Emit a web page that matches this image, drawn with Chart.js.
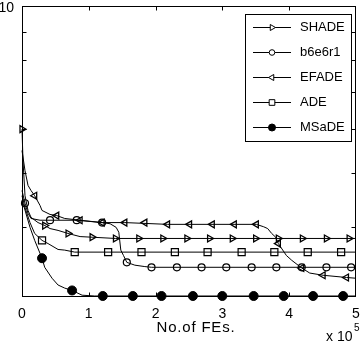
<!DOCTYPE html>
<html><head><meta charset="utf-8">
<script src="https://cdn.jsdelivr.net/npm/chart.js@4.4.0/dist/chart.umd.min.js"></script>
<style>html,body{margin:0;padding:0;background:#fff;overflow:hidden}canvas{display:block}</style>
</head><body>
<canvas id="c" width="362" height="349"></canvas>
<script>
// ---- tick values ----
const xTicks = [0, 1, 2, 3, 4, 5];
const yTicks = [3, 4, 5, 6, 7, 8, 9, 10];
const xTickLabels = ['0', '1', '2', '3', '4', '5'];
const xTitle = 'No.of FEs.';

// ---- series names ----
const names = ['SHADE', 'b6e6r1', 'EFADE', 'ADE', 'MSaDE'];

// ---- SHADE ----
const shadeX = [0, 0.015, 0.045, 0.09, 0.135, 0.24, 0.344, 0.42, 0.54, 0.69, 0.87, 1.05, 1.40, 5.0];
const shadeY = [6.0, 5.26, 4.55, 4.28, 4.16, 4.07, 4.02, 3.97, 3.94, 3.89, 3.84, 3.83, 3.81, 3.81];
const shadeMX = [0, 0.34, 0.69, 1.05, 1.40, 1.75, 2.11, 2.47, 2.81, 3.15, 3.50, 3.84, 4.20, 4.56, 4.90];
const shadeMY = [6.0, 4.02, 3.89, 3.83, 3.81, 3.81, 3.81, 3.81, 3.81, 3.81, 3.81, 3.81, 3.81, 3.81, 3.81];

// ---- b6e6r1 ----
const b6X = [0, 0.045, 0.09, 0.135, 0.27, 0.42, 0.82, 1.20, 1.32, 1.41, 1.45, 1.48, 1.52, 1.57, 1.69, 1.84, 1.94, 5.0];
const b6Y = [4.65, 4.41, 4.23, 4.14, 4.11, 4.11, 4.11, 4.07, 4.05, 3.99, 3.91, 3.63, 3.55, 3.45, 3.41, 3.39, 3.38, 3.38];
const b6MX = [0.045, 0.42, 0.82, 1.20, 1.57, 1.94, 2.32, 2.69, 3.06, 3.44, 3.81, 4.19, 4.56, 4.93];
const b6MY = [4.41, 4.11, 4.11, 4.07, 3.45, 3.38, 3.38, 3.38, 3.38, 3.38, 3.38, 3.38, 3.38, 3.38];

// ---- EFADE ----
const efX = [0, 0.045, 0.09, 0.135, 0.19, 0.27, 0.30, 0.42, 0.52, 0.64, 0.87, 1.20, 1.54, 2.18, 3.51, 3.62, 3.68, 3.74, 3.80, 3.84, 3.96, 4.04, 4.19, 4.31, 4.51, 4.86, 5.0];
const efY = [5.49, 5.05, 4.75, 4.65, 4.55, 4.37, 4.28, 4.21, 4.19, 4.14, 4.11, 4.07, 4.07, 4.04, 4.04, 4.00, 3.97, 3.89, 3.83, 3.73, 3.55, 3.48, 3.37, 3.30, 3.27, 3.24, 3.23];
const efMX = [0.19, 0.52, 0.87, 1.20, 1.54, 1.84, 2.18, 2.51, 2.85, 3.18, 3.51, 3.84, 4.19, 4.51, 4.86];
const efMY = [4.55, 4.19, 4.11, 4.07, 4.07, 4.07, 4.04, 4.04, 4.04, 4.04, 4.04, 3.73, 3.37, 3.27, 3.24];

// ---- ADE ----
const adeX = [0, 0.045, 0.12, 0.19, 0.30, 0.39, 0.54, 0.64, 0.79, 5.0];
const adeY = [4.55, 4.33, 4.07, 3.89, 3.78, 3.73, 3.64, 3.63, 3.60, 3.60];
const adeMX = [0.30, 0.79, 1.29, 1.79, 2.29, 2.78, 3.29, 3.78, 4.28, 4.78];
const adeMY = [3.78, 3.60, 3.60, 3.60, 3.60, 3.60, 3.60, 3.60, 3.60, 3.60];

// ---- MSaDE ----
const msX = [0, 0.015, 0.12, 0.19, 0.30, 0.34, 0.45, 0.54, 0.64, 0.75, 0.90, 1.09, 5.0];
const msY = [4.46, 4.41, 3.99, 3.78, 3.51, 3.38, 3.23, 3.14, 3.10, 3.07, 3.01, 3.0, 3.0];
const msMX = [0.30, 0.75, 1.21, 1.66, 2.09, 2.56, 3.00, 3.47, 3.92, 4.36, 4.81];
const msMY = [3.51, 3.07, 3.0, 3.0, 3.0, 3.0, 3.0, 3.0, 3.0, 3.0, 3.0];

const FONT = "'Liberation Sans', Arial, Helvetica, sans-serif";
const pts = (xs, ys) => xs.map((x, i) => ({x, y: ys[i]}));

const curves = [[shadeX, shadeY], [b6X, b6Y], [efX, efY], [adeX, adeY], [msX, msY]];
const marks = [[shadeMX, shadeMY], [b6MX, b6MY], [efMX, efMY], [adeMX, adeMY], [msMX, msMY]];
const mStyle = [
  {pointStyle: 'triangle', pointRotation: 90, pointRadius: 4, pointBackgroundColor: 'rgba(0,0,0,0)', pointBorderWidth: 1.3, lr: 3.5},
  {pointStyle: 'circle', pointRotation: 0, pointRadius: 3.5, pointBackgroundColor: 'rgba(0,0,0,0)', pointBorderWidth: 1.2, lr: 2.8},
  {pointStyle: 'triangle', pointRotation: -90, pointRadius: 4, pointBackgroundColor: 'rgba(0,0,0,0)', pointBorderWidth: 1.3, lr: 3.5},
  {pointStyle: 'rect', pointRotation: 0, pointRadius: 5, pointBackgroundColor: 'rgba(0,0,0,0)', pointBorderWidth: 1.2, lr: 4},
  {pointStyle: 'circle', pointRotation: 0, pointRadius: 4.5, pointBackgroundColor: '#000', pointBorderWidth: 1, lr: 3.5}
];

const datasets = [];
curves.forEach((c, i) => datasets.push({
  label: names[i] + ' curve', data: pts(c[0], c[1]), showLine: true, borderColor: '#000',
  borderWidth: 1, pointRadius: 0, tension: 0, clip: false, isCurve: true
}));
marks.forEach((m, i) => datasets.push(Object.assign({
  label: names[i], data: pts(m[0], m[1]), showLine: false, borderColor: '#000',
  pointBorderColor: '#000', clip: false
}, mStyle[i])));

const framePlugin = {
  id: 'frame',
  afterDatasetsDraw(chart) {
    const {ctx, chartArea: a, scales: {x, y}} = chart;
    ctx.save();
    ctx.strokeStyle = '#000'; ctx.lineWidth = 1;
    const L = Math.round(a.left) + 0.5, R = Math.round(a.right) - 0.5;
    const T = Math.round(a.top) + 0.5, B = Math.round(a.bottom) + 0.5;
    ctx.strokeRect(L, T, R - L, B - T);
    ctx.beginPath();
    xTicks.forEach(v => {
      if (v === xTicks[0] || v === xTicks[xTicks.length - 1]) return;
      const px = Math.round(x.getPixelForValue(v)) + 0.5;
      ctx.moveTo(px, B); ctx.lineTo(px, B - 4);
      ctx.moveTo(px, T); ctx.lineTo(px, T + 4);
    });
    yTicks.forEach(v => {
      if (v === yTicks[0] || v === yTicks[yTicks.length - 1]) return;
      const py = Math.round(y.getPixelForValue(v)) + 0.5;
      ctx.moveTo(L, py); ctx.lineTo(L + 4, py);
      ctx.moveTo(R, py); ctx.lineTo(R - 4, py);
    });
    ctx.stroke();
    ctx.restore();
  },
  afterDraw(chart) {
    const {ctx} = chart;
    ctx.save();
    ctx.fillStyle = '#000';
    // x-axis title
    ctx.font = '15px ' + FONT;
    ctx.textAlign = 'center'; ctx.textBaseline = 'middle';
    if ('letterSpacing' in ctx) ctx.letterSpacing = '0.8px';
    ctx.fillText(xTitle, 196, 328);
    if ('letterSpacing' in ctx) ctx.letterSpacing = '0px';
    // exponent note
    ctx.textAlign = 'left'; ctx.textBaseline = 'alphabetic';
    ctx.font = '14px ' + FONT;
    ctx.fillText('x 10', 326, 341);
    ctx.font = '10px ' + FONT;
    ctx.fillText('5', 354, 331);
    // legend
    const bx = 245.5, by = 14.5, bw = 106, bh = 127;
    ctx.fillStyle = '#fff';
    ctx.fillRect(bx, by, bw, bh);
    ctx.strokeStyle = '#000'; ctx.lineWidth = 1;
    ctx.strokeRect(bx, by, bw, bh);
    const markerSets = chart.data.datasets.filter(d => !d.isCurve);
    markerSets.forEach((d, i) => {
      const ry = Math.round(by + 12.5 + i * 25) + 0.5;
      ctx.beginPath();
      ctx.moveTo(253, ry); ctx.lineTo(291, ry);
      ctx.strokeStyle = '#000'; ctx.lineWidth = 1; ctx.stroke();
      ctx.fillStyle = d.pointBackgroundColor === '#000' ? '#000' : '#fff';
      ctx.strokeStyle = '#000';
      Chart.helpers.drawPoint(ctx, {pointStyle: d.pointStyle, rotation: d.pointRotation, radius: d.lr, borderWidth: 1}, 272, ry);
      ctx.fillStyle = '#000';
      ctx.font = '13px ' + FONT;
      ctx.textAlign = 'left'; ctx.textBaseline = 'middle';
      ctx.fillText(d.label, 300, ry);
    });
    ctx.restore();
  }
};

new Chart(document.getElementById('c'), {
  type: 'scatter',
  data: {datasets},
  options: {
    responsive: false, animation: false, devicePixelRatio: 1,
    layout: {padding: {top: 5, right: 6, left: 0, bottom: 0}},
    plugins: {legend: {display: false}, tooltip: {enabled: false}},
    scales: {
      x: {
        type: 'linear', min: 0, max: 5,
        afterBuildTicks: s => { s.ticks = xTicks.map(v => ({value: v})); },
        ticks: {callback: (v, i) => xTickLabels[i], color: '#000', padding: 10, autoSkip: false, maxRotation: 0,
          font: {family: FONT, size: 14}},
        grid: {display: false, drawTicks: false},
        border: {display: false},
        title: {display: false},
        afterFit: s => { s.height = 53; s.paddingLeft = 0; s.paddingRight = 0; }
      },
      y: {
        type: 'logarithmic', min: 3, max: 10,
        afterBuildTicks: s => { s.ticks = yTicks.map(v => ({value: v})); },
        ticks: {callback: v => (v === 10 ? '10' : ''), color: '#000', padding: 8, autoSkip: false, labelOffset: 2,
          font: {family: FONT, size: 14}},
        grid: {display: false, drawTicks: false},
        border: {display: false},
        afterFit: s => { s.width = 22; s.paddingTop = 0; s.paddingBottom = 0; }
      }
    }
  },
  plugins: [framePlugin]
});
</script>
</body></html>
